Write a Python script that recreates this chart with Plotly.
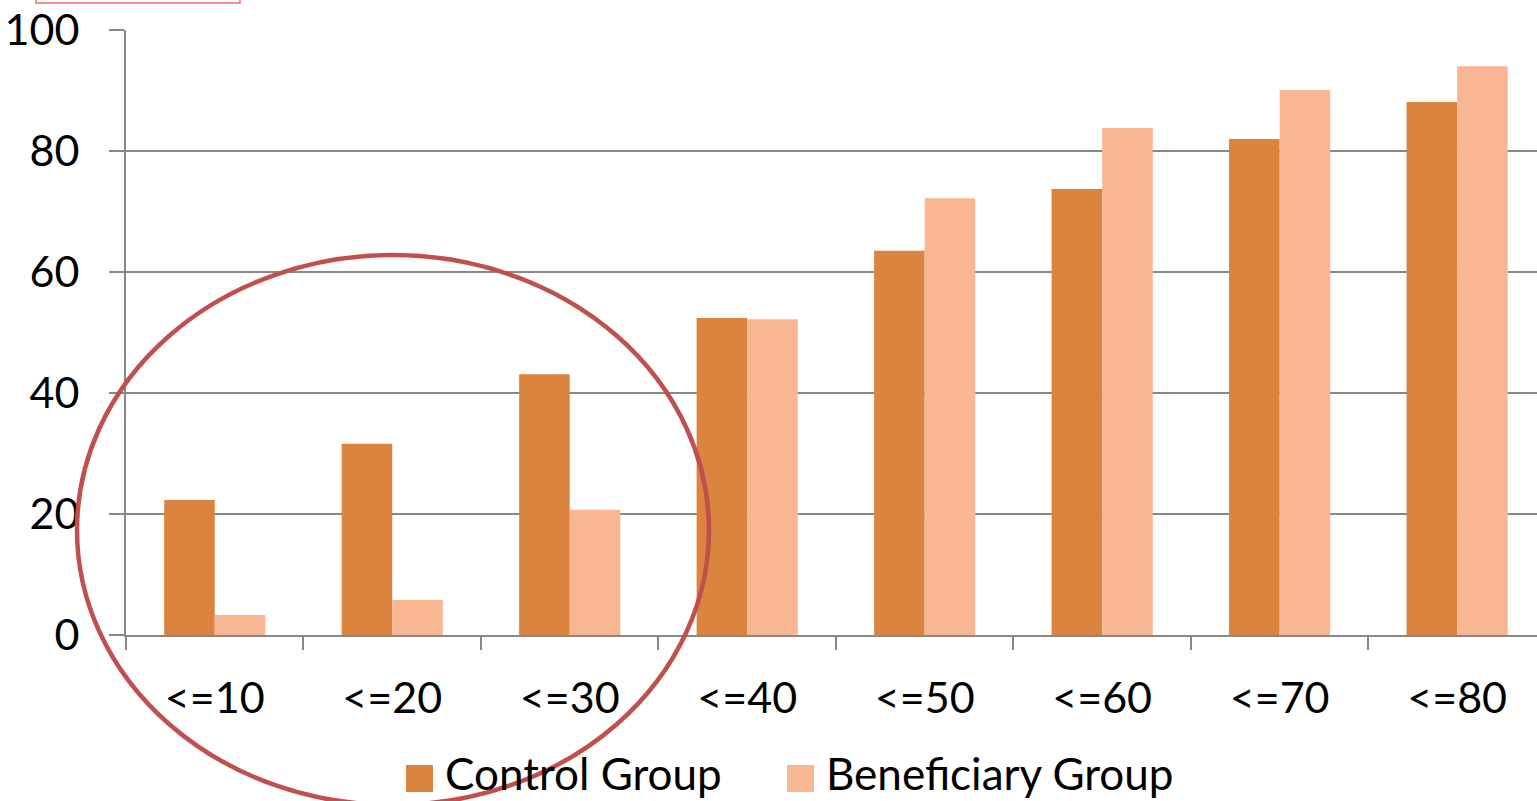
import plotly.graph_objects as go

categories = ["<=10", "<=20", "<=30", "<=40", "<=50", "<=60", "<=70", "<=80"]
control_group = [22.3, 31.6, 43.1, 52.4, 63.5, 73.7, 82.0, 88.1]
beneficiary_group = [3.3, 5.8, 20.7, 52.2, 72.2, 83.8, 90.1, 94.0]
y_ticks = [0, 20, 40, 60, 80, 100]

W, H = 1537, 801
L, T, B = 126, 30, 166
PW, PH = W - L, H - T - B

CONTROL = "#DB843F"
BENEF = "#F8B692"
GRID = "#888888"
FONT = "Lato"
FS = 43
LEG_FS = 44


def px_x(p):
    return (p - L) / PW


def px_y(p):
    return (H - B - p) / PH


fig = go.Figure()
fig.add_trace(go.Bar(x=categories, y=control_group, name="Control Group",
                     marker=dict(color=CONTROL, line=dict(width=0)), showlegend=False))
fig.add_trace(go.Bar(x=categories, y=beneficiary_group, name="Beneficiary Group",
                     marker=dict(color=BENEF, line=dict(width=0)), showlegend=False))

fig.update_layout(
    width=W, height=H,
    margin=dict(l=L, r=0, t=T, b=B, autoexpand=False),
    paper_bgcolor="white", plot_bgcolor="white",
    barmode="group", bargap=0.43, bargroupgap=0,
    font=dict(family=FONT, size=FS, color="black"),
    xaxis=dict(
        type="category", range=[-0.5, 7.45], tickson="boundaries",
        ticks="outside", ticklen=13, tickwidth=2, tickcolor=GRID,
        showline=True, linecolor=GRID, linewidth=2, showgrid=False,
        ticklabelstandoff=24, tickfont=dict(family=FONT, size=FS),
    ),
    yaxis=dict(
        range=[0, 100], tickvals=y_ticks, ticks="outside", ticklen=15,
        tickwidth=2, tickcolor=GRID, showline=True, linecolor=GRID, linewidth=2,
        showgrid=True, gridcolor=GRID, gridwidth=1.5, zeroline=False,
        ticklabelstandoff=21, tickfont=dict(family=FONT, size=FS),
    ),
)

shapes = []
# highlight ellipse around the lowest three groups
shapes.append(dict(type="circle", xref="paper", yref="paper",
                   x0=px_x(77), x1=px_x(709), y0=px_y(805), y1=px_y(255),
                   line=dict(color="#C0504D", width=4.5), layer="above"))
# thin outlined box at the top-left corner
shapes.append(dict(type="rect", xref="paper", yref="paper",
                   x0=px_x(36), x1=px_x(240), y0=px_y(3), y1=px_y(-20),
                   line=dict(color="#EE6A6A", width=1.5), layer="above"))
# legend swatches
for x0, col in [(406, CONTROL), (787, BENEF)]:
    shapes.append(dict(type="rect", xref="paper", yref="paper",
                       x0=px_x(x0), x1=px_x(x0 + 27), y0=px_y(792), y1=px_y(765),
                       fillcolor=col, line=dict(width=0), layer="above"))
fig.update_layout(shapes=shapes)

for x0, label in [(443, "Control Group"), (824, "Beneficiary Group")]:
    fig.add_annotation(xref="paper", yref="paper", x=px_x(x0), y=px_y(773),
                       xanchor="left", yanchor="middle", showarrow=False,
                       text=label, font=dict(family=FONT, size=LEG_FS, color="black"))

fig.write_html("out.html")
